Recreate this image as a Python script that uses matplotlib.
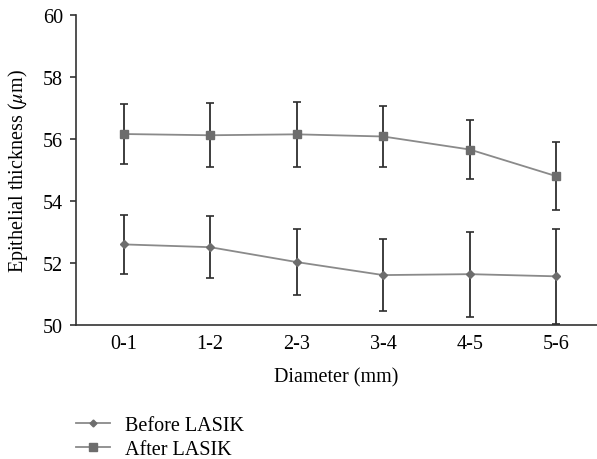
import matplotlib
matplotlib.use("Agg")
import matplotlib.pyplot as plt
from matplotlib.lines import Line2D

categories = ["0-1", "1-2", "2-3", "3-4", "4-5", "5-6"]
before_mean = [52.6, 52.51, 52.03, 51.61, 51.64, 51.57]
before_err = [0.95, 1.0, 1.07, 1.15, 1.37, 1.53]
after_mean = [56.16, 56.12, 56.15, 56.08, 55.66, 54.8]
after_err = [0.98, 1.03, 1.05, 0.99, 0.94, 1.09]

plt.rcParams['font.family'] = ['Liberation Serif', 'DejaVu Serif']
plt.rcParams['mathtext.fontset'] = 'stix'

FS = 14.5
fig = plt.figure(figsize=(5.97, 4.6), dpi=100)
ax = fig.add_axes([0.1273, 0.2913, 0.8727, 0.674])

x = list(range(len(categories)))
line_c = '#8a8a8a'
mark_c = '#6d6d6d'
err_c = '#2e2e2e'

ax.errorbar(x, before_mean, yerr=before_err, color=line_c, lw=1.3,
            marker='D', ms=3.8, mfc=mark_c, mec=mark_c,
            ecolor=err_c, elinewidth=1.3, capsize=2.6, capthick=1.2, zorder=3)
ax.errorbar(x, after_mean, yerr=after_err, color=line_c, lw=1.3,
            marker='s', ms=5.8, mfc=mark_c, mec=mark_c,
            ecolor=err_c, elinewidth=1.3, capsize=2.6, capthick=1.2, zorder=3)

ax.set_xlim(-0.55, 5.47)
ax.set_ylim(50, 60)
ax.set_yticks([50, 52, 54, 56, 58, 60])
ax.set_xticks(x)
ax.set_xticklabels(categories)
ax.tick_params(axis='x', length=0, labelsize=FS, pad=6.5)
ax.tick_params(axis='y', length=4.5, width=1.1, labelsize=FS, pad=5, color='#222222')
for s in ['top', 'right']:
    ax.spines[s].set_visible(False)
for s in ['left', 'bottom']:
    ax.spines[s].set_linewidth(1.2)
    ax.spines[s].set_color('#333333')

ax.set_xlabel("Diameter (mm)", fontsize=FS, labelpad=10)
ax.set_ylabel(r"Epithelial thickness ($\mu$m)", fontsize=FS, labelpad=9)

handles = [
    Line2D([], [], color=line_c, lw=1.3, marker='D', ms=3.5, mfc=mark_c, mec=mark_c),
    Line2D([], [], color=line_c, lw=1.3, marker='s', ms=5.5, mfc=mark_c, mec=mark_c),
]
fig.legend(handles, ["Before LASIK", "After LASIK"], loc='upper left',
           bbox_to_anchor=(0.127, 0.094), frameon=False, fontsize=FS,
           handlelength=1.7, handletextpad=0.75, labelspacing=0.25, borderpad=0,
           borderaxespad=0)

fig.savefig("out.png", dpi=100)
